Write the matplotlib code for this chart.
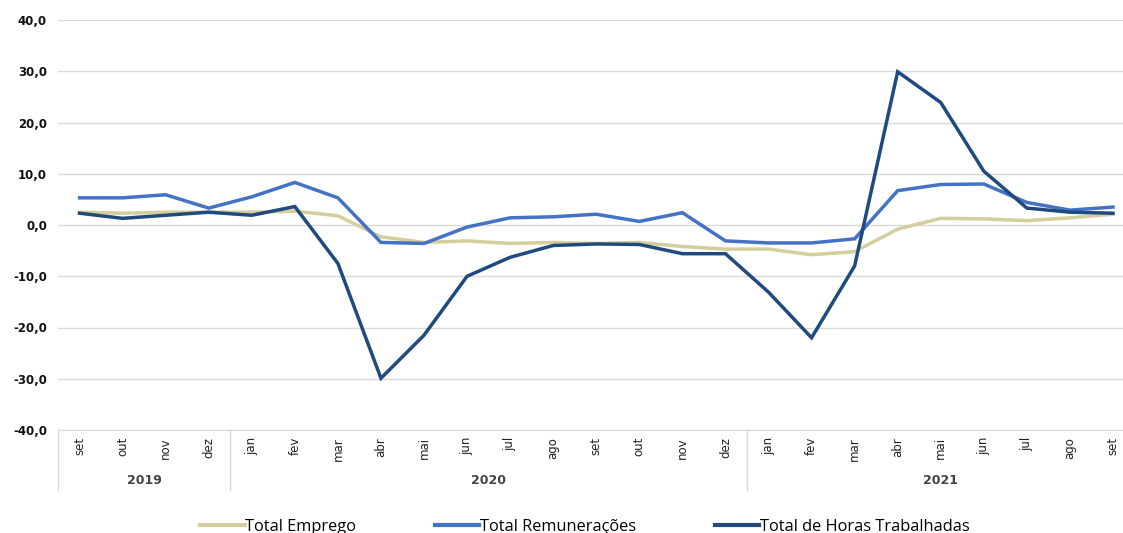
import matplotlib
matplotlib.use("Agg")
import matplotlib.pyplot as plt
import matplotlib.transforms as mtransforms
from matplotlib.lines import Line2D

months = ["set", "out", "nov", "dez",
          "jan", "fev", "mar", "abr", "mai", "jun", "jul", "ago", "set", "out", "nov", "dez",
          "jan", "fev", "mar", "abr", "mai", "jun", "jul", "ago", "set"]
years = ["2019", "2020", "2021"]
year_counts = [4, 12, 9]

emprego = [2.5, 2.3, 2.5, 2.5, 2.5, 2.7, 1.8, -2.3, -3.4, -3.1, -3.6, -3.4, -3.6, -3.4, -4.2, -4.7,
           -4.7, -5.8, -5.2, -0.8, 1.3, 1.2, 0.85, 1.4, 2.1]
remuneracoes = [5.3, 5.3, 5.9, 3.3, 5.5, 8.3, 5.3, -3.4, -3.6, -0.4, 1.4, 1.6, 2.1, 0.7, 2.4, -3.1,
                -3.5, -3.5, -2.7, 6.7, 7.9, 8.0, 4.4, 2.9, 3.5]
horas = [2.3, 1.3, 1.9, 2.5, 1.9, 3.6, -7.5, -29.9, -21.5, -10.0, -6.3, -4.0, -3.7, -3.8, -5.6, -5.6,
         -13.1, -22.0, -8.0, 29.9, 23.9, 10.5, 3.3, 2.5, 2.3]

series_names = ["Total Emprego", "Total Remunerações", "Total de Horas Trabalhadas"]
colors = ["#D3CE9C", "#4472C4", "#1F4A7D"]

fig = plt.figure(figsize=(11.23, 5.33), dpi=100)
ax = fig.add_axes([58 / 1123, 1 - 430 / 533, 1 - 58 / 1123, 410 / 533])

x = list(range(len(months)))
for vals, c in zip([emprego, remuneracoes, horas], colors):
    ax.plot(x, vals, color=c, lw=2.5, solid_joinstyle="miter", zorder=3)

ax.set_ylim(-40, 40)
ax.set_xlim(-0.5, 24 + 10 / 43.04)
ax.set_yticks(range(-40, 41, 10))
ax.set_yticklabels([f"{v:.1f}".replace(".", ",") for v in range(-40, 41, 10)],
                   fontsize=8.5, fontweight="bold", color="#111111")
ax.yaxis.grid(True, color="#D9D9D9", lw=1)
ax.set_axisbelow(True)
for s in ["top", "right", "left"]:
    ax.spines[s].set_visible(False)
ax.spines["bottom"].set_color("#D9D9D9")
ax.tick_params(axis="y", length=0, pad=8)
ax.set_xticks(x)
ax.set_xticklabels(months, rotation=90, fontsize=8.5, color="#222222")
ax.tick_params(axis="x", length=0, pad=5)

trans = mtransforms.blended_transform_factory(ax.transData, ax.transAxes)
start = -0.5
bounds = [start]
for cnt in year_counts:
    bounds.append(bounds[-1] + cnt)
for b in bounds:
    ax.add_line(Line2D([b, b], [0, -60 / 410], transform=trans, color="#D9D9D9", lw=1, clip_on=False))
for i, yr in enumerate(years):
    mid = (bounds[i] + bounds[i + 1]) / 2
    ax.text(mid, -50 / 410, yr, transform=trans, ha="center", va="center",
            fontsize=9, fontweight="bold", color="#444444")

handles = [Line2D([], [], color=c, lw=3) for c in colors]
fig.legend(handles, series_names, loc="center", bbox_to_anchor=(0.521, 0.012), ncol=3,
           frameon=False, handlelength=2.7, handletextpad=0.05, columnspacing=4.8,
           prop={"family": "Open Sans", "size": 11.8})

fig.savefig("out.png", dpi=100)
